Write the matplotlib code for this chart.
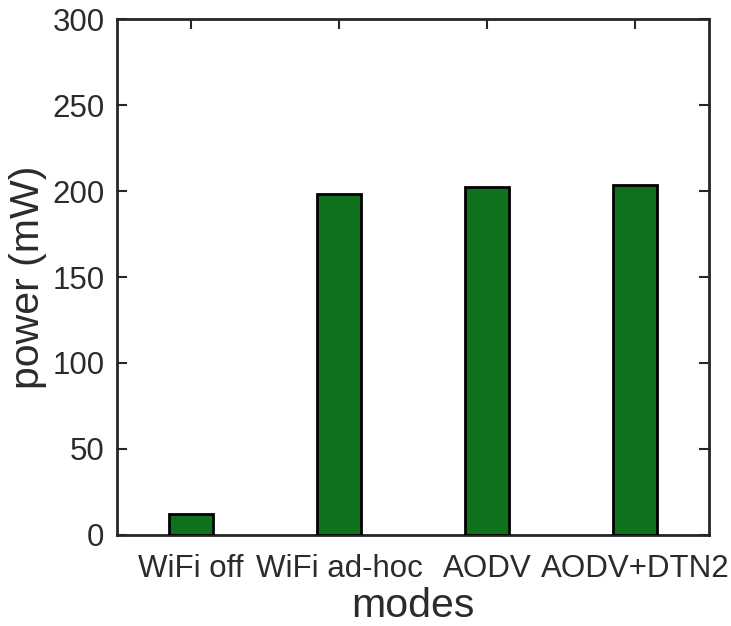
import matplotlib
matplotlib.use('Agg')
import matplotlib.pyplot as plt
import numpy as np

# Data
modes = ['WiFi off', 'WiFi ad-hoc', 'AODV', 'AODV+DTN2']
power = [12, 198, 202.5, 203.5]

plt.rcParams['font.family'] = ['Liberation Sans', 'DejaVu Sans']
dark = '#262626'
txt = '#2b2b2b'

fig = plt.figure(figsize=(7.31, 6.26), dpi=100)
ax = fig.add_axes([0.160, 0.1454, 0.810, 0.8242])

x = np.arange(1, len(modes) + 1)
ax.bar(x, power, width=0.3, color='#0e721c', edgecolor='black', linewidth=2, zorder=3)

ax.set_xlim(0.5, len(modes) + 0.5)
ax.set_ylim(0, 300)
ax.set_xticks(x)
ax.set_xticklabels(modes)
ax.set_yticks(np.arange(0, 301, 50))

ax.tick_params(direction='in', length=7, width=1.5, colors=dark, labelcolor=txt,
               labelsize=22.5, top=True, right=True)
ax.tick_params(axis='x', pad=14)
ax.tick_params(axis='y', pad=9)
for s in ax.spines.values():
    s.set_linewidth(2)
    s.set_color(dark)

ax.set_xlabel('modes', fontsize=29.5, color=txt, labelpad=2)
ax.set_ylabel('power (mW)', fontsize=29.5, color=txt, labelpad=4)

fig.savefig('out.png', dpi=100)
